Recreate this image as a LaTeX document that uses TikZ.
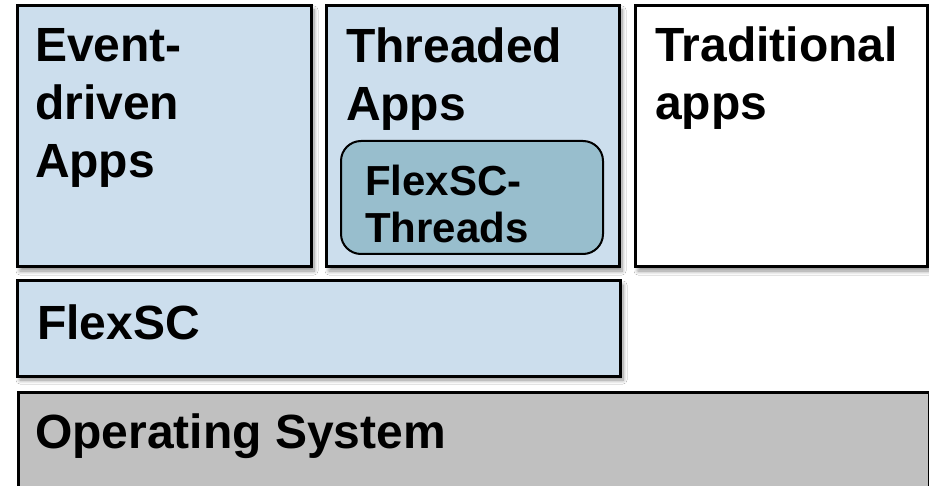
\documentclass[tikz,border=0pt]{standalone}
\usepackage{fontspec}
\setmainfont{Liberation Sans}
\usetikzlibrary{shadows.blur}
\definecolor{lightblue}{RGB}{204,222,237}
\definecolor{innerblue}{RGB}{152,190,205}
\definecolor{osgray}{RGB}{192,192,192}
\tikzset{
  layerbox/.style={draw=black, line width=3pt, rectangle, anchor=north west, inner sep=0pt, outer sep=0pt,
    blur shadow={shadow xshift=3pt, shadow yshift=-4pt, shadow blur radius=4pt, shadow blur steps=8, shadow opacity=45}},
  bigtext/.style={anchor=north west, inner sep=0pt, outer sep=0pt, align=left,
    font=\fontsize{48}{58}\selectfont\bfseries},
  smalltext/.style={anchor=north west, inner sep=0pt, outer sep=0pt, align=left,
    font=\fontsize{42}{47}\selectfont\bfseries},
}
\begin{document}
\begin{tikzpicture}[x=1pt, y=-1pt]
\useasboundingbox (0,0) rectangle (929,486);
\fill[white] (0,0) rectangle (929,486);
% boxes
\node[layerbox, fill=lightblue, minimum width=294pt, minimum height=261pt] (ev) at (17,6) {};
\node[layerbox, fill=lightblue, minimum width=293pt, minimum height=261pt] (th) at (326,6) {};
\node[layerbox, fill=white, minimum width=292pt, minimum height=261pt] (tr) at (635,6) {};
\node[draw=black, line width=2pt, rounded corners=20pt, fill=innerblue, anchor=north west, inner sep=0pt,
      minimum width=262pt, minimum height=113pt] (ft) at (340,140) {};
\node[layerbox, fill=lightblue, minimum width=603pt, minimum height=95pt] (fx) at (17,281) {};
\node[draw=black, line width=3pt, fill=osgray, anchor=north west, inner sep=0pt,
      minimum width=911pt, minimum height=120pt] (os) at (17,391) {};
% labels
\node[bigtext] (evl) at (35,28) {Event-\\driven\\Apps};
\node[bigtext] (thl) at (346,28) {Threaded\\Apps};
\node[bigtext] (trl) at (655,27) {Traditional\\apps};
\node[smalltext] (ftl) at (365,165) {FlexSC-\\Threads};
\node[bigtext] (fxl) at (37,305) {FlexSC};
\node[bigtext] (osl) at (35,414) {Operating System};
\end{tikzpicture}
\end{document}
